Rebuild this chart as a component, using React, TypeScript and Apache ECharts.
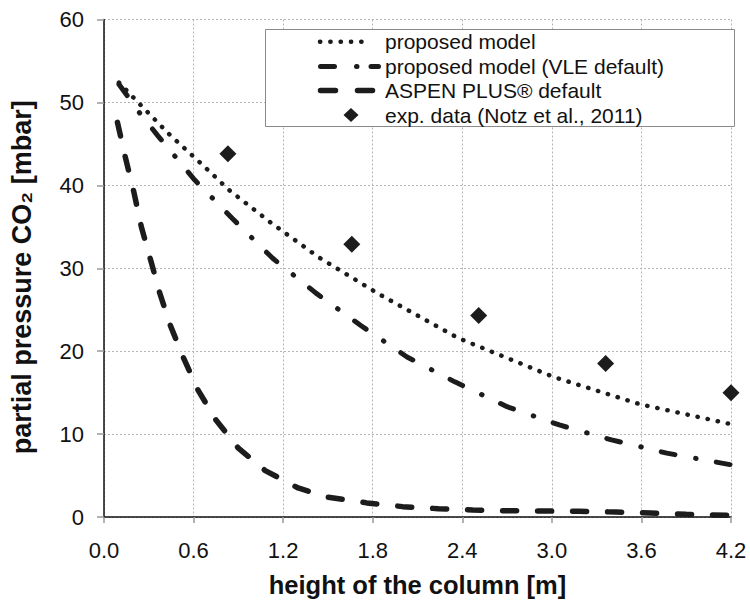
import React, { useEffect, useRef } from "react";
import * as echarts from "echarts";

const xTicks = [0.0, 0.6, 1.2, 1.8, 2.4, 3.0, 3.6, 4.2];
const yTicks = [0, 10, 20, 30, 40, 50, 60];

const propX = [0.1, 0.25, 0.44, 0.64, 0.84, 1.11, 1.44, 1.84, 2.37, 3.01, 3.59, 4.2];
const propY = [52.4, 49.6, 46.1, 42.8, 39.4, 35.6, 31.3, 26.9, 21.6, 16.9, 13.6, 11.2];

const vleX = [0.1, 0.24, 0.36, 0.6, 0.86, 1.13, 1.42, 1.72, 2.03, 2.35, 2.7, 3.05, 3.4, 3.77, 4.2];
const vleY = [52.2, 48.7, 46.0, 40.8, 36.0, 31.2, 27.0, 23.1, 19.3, 16.3, 13.3, 11.1, 9.3, 7.7, 6.3];

const aspenX = [0.09, 0.14, 0.2, 0.25, 0.32, 0.37, 0.44, 0.53, 0.63, 0.75, 0.9, 1.08, 1.3, 1.5, 1.76, 2.0, 2.24, 2.47, 2.7, 2.95, 3.18, 3.43, 3.66, 3.9, 4.2];
const aspenY = [47.6, 43.6, 39.2, 35.0, 30.5, 27.2, 23.3, 19.3, 15.3, 11.7, 8.3, 5.6, 3.5, 2.4, 1.7, 1.25, 1.0, 0.85, 0.75, 0.72, 0.68, 0.6, 0.48, 0.32, 0.2];

const expX = [0.83, 1.66, 2.51, 3.36, 4.2];
const expY = [43.8, 32.9, 24.3, 18.5, 15.0];

const names = [
  "proposed model",
  "proposed model (VLE default)",
  "ASPEN PLUS® default",
  "exp. data (Notz et al., 2011)",
];

const pair = (xs: number[], ys: number[]) => xs.map((x, i) => [x, ys[i]]);

const FONT = "'Liberation Sans', Arial, sans-serif";
const INK = "#1c1c1c";

const dotDash = [0.3, 10];
const vleDash = [14, 21, 0.5, 20.5];
const aspenDash = [14, 21];

export default function App() {
  const ref = useRef<HTMLDivElement>(null);
  useEffect(() => {
    if (!ref.current) return;
    const chart = echarts.init(ref.current, undefined, { renderer: "svg" });

    const rows = [41.7, 66.5, 90.5, 115];
    const textX = 385;
    const legendGraphic: any[] = [
      {
        type: "rect",
        z: 10,
        shape: { x: 265.5, y: 29.5, width: 469, height: 97 },
        style: { fill: "#fff", stroke: "#8a8a8a", lineWidth: 1 },
      },
      {
        type: "line",
        z: 11,
        shape: { x1: 320, y1: rows[0], x2: 371, y2: rows[0] },
        style: { stroke: INK, lineWidth: 4.5, lineDash: dotDash, lineCap: "round" },
      },
      {
        type: "line",
        z: 11,
        shape: { x1: 320.5, y1: rows[1], x2: 378.5, y2: rows[1] },
        style: { stroke: INK, lineWidth: 5, lineDash: [14, 22, 0.5, 14, 8], lineCap: "round" },
      },
      {
        type: "line",
        z: 11,
        shape: { x1: 320.5, y1: rows[2], x2: 372.5, y2: rows[2] },
        style: { stroke: INK, lineWidth: 5.5, lineDash: [15, 22, 15], lineCap: "round" },
      },
      {
        type: "polygon",
        z: 11,
        shape: { points: [[351, rows[3] - 7], [358.5, rows[3]], [351, rows[3] + 7], [343.5, rows[3]]] },
        style: { fill: INK },
      },
    ];
    names.forEach((n, i) => {
      legendGraphic.push({
        type: "text",
        z: 12,
        x: textX,
        y: rows[i],
        style: {
          text: n,
          fontSize: 21,
          fontFamily: FONT,
          fill: "#111",
          verticalAlign: "middle",
          align: "left",
        },
      });
    });

    chart.setOption({
      animation: false,
      backgroundColor: "#fff",
      textStyle: { fontFamily: FONT },
      grid: { left: 100, right: 19, top: 19.5, bottom: 81.5, containLabel: false },
      graphic: legendGraphic,
      xAxis: {
        type: "value",
        min: 0,
        max: 4.2,
        interval: 0.6,
        name: "height of the column [m]",
        nameLocation: "middle",
        nameGap: 55,
        nameTextStyle: { fontFamily: FONT, fontSize: 25.5, fontWeight: "bold", color: "#111" },
        axisLine: { show: true, onZero: false, lineStyle: { color: "#111", width: 1.5 } },
        axisTick: { show: true, length: 6, lineStyle: { color: "#999", width: 1.5 } },
        axisLabel: {
          margin: 22,
          fontSize: 22,
          color: "#111",
          fontFamily: FONT,
          formatter: (v: number) => v.toFixed(1),
        },
        splitLine: { show: true, lineStyle: { color: "#b5b5b5", type: [2, 2], width: 1 } },
      },
      yAxis: {
        type: "value",
        min: 0,
        max: 60,
        interval: 10,
        name: "partial pressure CO₂ [mbar]",
        nameLocation: "middle",
        nameGap: 69,
        nameTextStyle: {
          fontFamily: FONT,
          fontSize: 27,
          fontWeight: "bold",
          color: "#111",
          padding: [0, 18, 0, 0],
        },
        axisLine: { show: true, lineStyle: { color: "#111", width: 1.5 } },
        axisTick: { show: true, length: 7, lineStyle: { color: "#999", width: 1.5 } },
        axisLabel: { margin: 20, fontSize: 22, color: "#111", fontFamily: FONT },
        splitLine: { show: true, lineStyle: { color: "#b5b5b5", type: [2, 2], width: 1 } },
      },
      series: [
        {
          name: names[0],
          type: "line",
          data: pair(propX, propY),
          symbol: "none",
          smooth: false,
          lineStyle: { color: INK, width: 4.5, type: dotDash, cap: "round" },
          itemStyle: { color: INK },
          z: 3,
        },
        {
          name: names[1],
          type: "line",
          data: pair(vleX, vleY),
          symbol: "none",
          smooth: false,
          lineStyle: { color: INK, width: 5, type: vleDash, cap: "round" },
          itemStyle: { color: INK },
          z: 3,
        },
        {
          name: names[2],
          type: "line",
          data: pair(aspenX, aspenY),
          symbol: "none",
          smooth: false,
          lineStyle: { color: INK, width: 5.5, type: aspenDash, cap: "round" },
          itemStyle: { color: INK },
          z: 3,
        },
        {
          name: names[3],
          type: "scatter",
          data: pair(expX, expY),
          symbol: "diamond",
          symbolSize: 17,
          itemStyle: { color: INK, opacity: 1 },
          z: 4,
        },
      ],
    });
    return () => chart.dispose();
  }, []);
  return (
    <div
      ref={ref}
      style={{ position: "fixed", left: 0, top: 0, width: 750, height: 603 }}
    />
  );
}
